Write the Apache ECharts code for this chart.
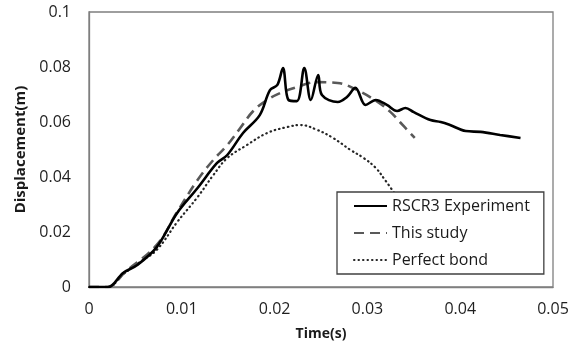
<!DOCTYPE html>
<html>
<head>
<meta charset="utf-8">
<script src="https://cdn.jsdelivr.net/npm/echarts@6/dist/echarts.min.js"></script>
<style>
html,body{margin:0;padding:0;background:#fff;}
#c{width:577px;height:347px;}
</style>
</head>
<body>
<div id="c"></div>
<script>
const xTicks = [0, 0.01, 0.02, 0.03, 0.04, 0.05];
const yTicks = [0, 0.02, 0.04, 0.06, 0.08, 0.1];

const expT = [0, 0.00205, 0.00367, 0.0052, 0.0073, 0.0095, 0.0117, 0.0138, 0.0149, 0.0166, 0.0184, 0.0195, 0.0203, 0.0209, 0.0215, 0.0224, 0.0232, 0.0239, 0.0247, 0.0251, 0.0268, 0.0278, 0.0287, 0.0298, 0.0309, 0.0321, 0.0332, 0.0341, 0.035, 0.0368, 0.0379, 0.0389, 0.0406, 0.0422, 0.0443, 0.0465];
const expD = [0, 0, 0.0051, 0.008, 0.0145, 0.0269, 0.036, 0.0451, 0.048, 0.056, 0.0625, 0.0716, 0.0735, 0.0796, 0.068, 0.0676, 0.0796, 0.068, 0.0771, 0.0698, 0.0673, 0.0691, 0.0724, 0.0662, 0.068, 0.0662, 0.064, 0.0651, 0.0636, 0.0607, 0.06, 0.0589, 0.0567, 0.0564, 0.0553, 0.0542];

const studyT = [0, 0.002, 0.0039, 0.0073, 0.0095, 0.0117, 0.0134, 0.0149, 0.0163, 0.0177, 0.0192, 0.0206, 0.0224, 0.0246, 0.0268, 0.0289, 0.0311, 0.0325, 0.0335, 0.0351];
const studyD = [0, 0, 0.0055, 0.0153, 0.0273, 0.0389, 0.0462, 0.0516, 0.0578, 0.064, 0.068, 0.0705, 0.0727, 0.0745, 0.0742, 0.0716, 0.0673, 0.0636, 0.06, 0.0542];

const bondT = [0, 0.002, 0.0037, 0.0055, 0.0073, 0.0095, 0.0117, 0.0134, 0.0149, 0.017, 0.0192, 0.0214, 0.0228, 0.0246, 0.0263, 0.0282, 0.0296, 0.0309, 0.0319, 0.0329];
const bondD = [0, 0, 0.0047, 0.0091, 0.0135, 0.0236, 0.0327, 0.0407, 0.0469, 0.0516, 0.056, 0.0582, 0.0589, 0.0571, 0.0542, 0.0498, 0.0469, 0.0433, 0.0389, 0.0342];

const names = ['RSCR3 Experiment', 'This study', 'Perfect bond'];

const zip = (a, b) => a.map((v, i) => [v, b[i]]);
const font = '"Open Sans", "Noto Sans", sans-serif';

const chart = echarts.init(document.getElementById('c'), null, {renderer: 'canvas'});
chart.setOption({
  animation: false,
  backgroundColor: '#ffffff',
  grid: {left: 89, right: 24, top: 12, bottom: 60, show: true, borderColor: '#7f7f7f', borderWidth: 1.3, backgroundColor: 'transparent'},
  xAxis: {
    type: 'value', min: 0, max: 0.05, interval: 0.01,
    name: 'Time(s)', nameLocation: 'middle', nameGap: 40,
    nameTextStyle: {fontFamily: font, fontSize: 14, fontWeight: 'bold', color: '#1a1a1a'},
    axisLine: {show: true, lineStyle: {color: '#7f7f7f', width: 1.3}},
    axisTick: {show: false},
    splitLine: {show: false},
    axisLabel: {fontFamily: font, fontSize: 16, color: '#1f1f1f', margin: 14,
      formatter: v => { const m = xTicks.find(t => Math.abs(t - v) < 1e-9); return m === undefined ? '' : String(m); }}
  },
  yAxis: {
    type: 'value', min: 0, max: 0.1, interval: 0.02,
    name: 'Displacement(m)', nameLocation: 'middle', nameGap: 60,
    nameTextStyle: {fontFamily: font, fontSize: 15, fontWeight: 'bold', color: '#1a1a1a'},
    axisLine: {show: true, lineStyle: {color: '#7f7f7f', width: 1.3}},
    axisTick: {show: false},
    splitLine: {show: false},
    axisLabel: {fontFamily: font, fontSize: 16, color: '#1f1f1f', margin: 18,
      formatter: v => { const m = yTicks.find(t => Math.abs(t - v) < 1e-9); return m === undefined ? '' : String(m); }}
  },
  legend: {
    orient: 'vertical', left: 337, top: 192,
    padding: [6, 14, 6, 16], itemGap: 11, itemWidth: 33, itemHeight: 14,
    backgroundColor: '#ffffff', borderColor: '#404040', borderWidth: 1.3,
    itemStyle: {opacity: 0},
    textStyle: {fontFamily: font, fontSize: 16, color: '#1a1a1a'},
    data: names
  },
  series: [
    {name: names[0], type: 'line', data: zip(expT, expD), symbol: 'none', smooth: 0.35,
     lineStyle: {color: '#000000', width: 2.6}, itemStyle: {color: '#000000'}, z: 4},
    {name: names[1], type: 'line', data: zip(studyT, studyD), symbol: 'none', smooth: 0.4,
     lineStyle: {color: '#595959', width: 2.6, type: [10, 6]}, itemStyle: {color: '#595959'}, z: 3},
    {name: names[2], type: 'line', data: zip(bondT, bondD), symbol: 'none', smooth: 0.4,
     lineStyle: {color: '#262626', width: 2.2, type: [0.5, 4], cap: 'round'}, itemStyle: {color: '#262626'}, z: 2}
  ]
});
</script>
</body>
</html>
